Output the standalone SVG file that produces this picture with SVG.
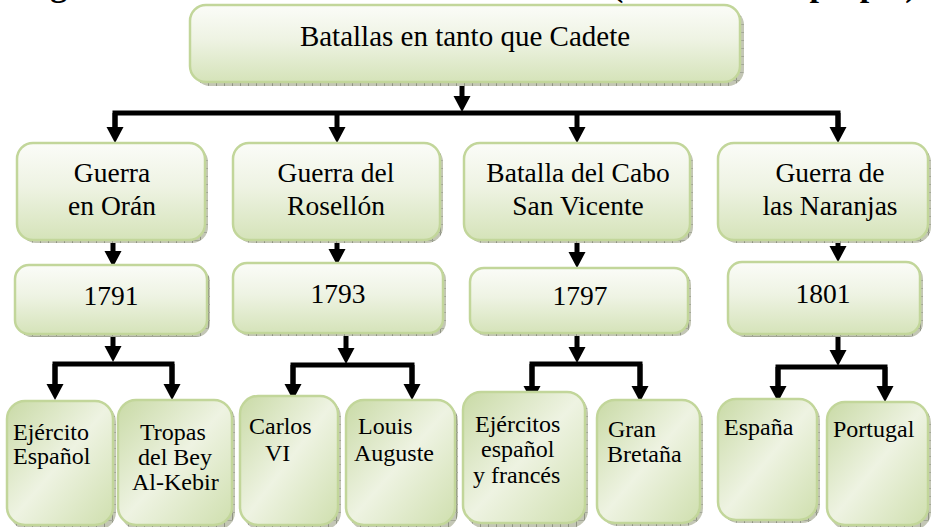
<svg xmlns="http://www.w3.org/2000/svg" width="935" height="527" viewBox="0 0 935 527">
<defs>
<linearGradient id="gBox" x1="0" y1="0" x2="0" y2="1">
<stop offset="0" stop-color="#fbfcf8"/>
<stop offset="0.45" stop-color="#eef3e3"/>
<stop offset="1" stop-color="#d5e3b9"/>
</linearGradient>
<linearGradient id="gLeaf" x1="0" y1="0" x2="1" y2="1">
<stop offset="0" stop-color="#c9daa6"/>
<stop offset="0.5" stop-color="#eef3e2"/>
<stop offset="1" stop-color="#cfdfae"/>
</linearGradient>
<pattern id="hatch" width="8" height="8" patternUnits="userSpaceOnUse">
<rect width="8" height="8" fill="#c3c6b5"/>
<rect width="1" height="8" fill="#8f9383"/>
<rect width="8" height="1" fill="#a3a797"/>
</pattern>
<marker id="ah" viewBox="0 -9 16 18" refX="1" refY="0" markerWidth="16" markerHeight="18" markerUnits="userSpaceOnUse" orient="auto">
<path d="M0,-8.5 L16,0 L0,8.5 z" fill="#000"/>
</marker>
</defs>
<style>
.sh{fill:url(#hatch);}
.bx{fill:url(#gBox);stroke:#c2d69a;stroke-width:2.5;}
.lf{fill:url(#gLeaf);stroke:#c2d69a;stroke-width:2.5;}
.t{font-family:"Liberation Serif","Times New Roman",serif;fill:#000;}
.t2{font-size:27.5px;text-anchor:middle;}
.t1{font-size:29px;text-anchor:middle;}
.tl{font-size:24px;}
.ti{font-family:"Liberation Serif","Times New Roman",serif;font-weight:bold;font-size:34px;fill:#000;}
.c{fill:none;stroke:#000;stroke-width:5;stroke-linejoin:miter;}
.ca{fill:none;stroke:#000;stroke-width:5;marker-end:url(#ah);}
</style>

<g id="title">
<text class="ti" x="20" y="-4">Figura</text>
<text class="ti" x="612" y="-4">(Elaboración propia)</text>
</g>

<g id="connectors">
<line class="ca" x1="462" y1="84" x2="462" y2="97"/>
<path class="c" d="M115,129 V113 H838 V129"/>
<line class="ca" x1="115" y1="113" x2="115" y2="128"/>
<line class="ca" x1="337" y1="113" x2="337" y2="128"/>
<line class="ca" x1="577" y1="113" x2="577" y2="128"/>
<line class="ca" x1="838" y1="113" x2="838" y2="128"/>

<line class="ca" x1="113" y1="241" x2="113" y2="252"/>
<line class="ca" x1="337" y1="241" x2="337" y2="250"/>
<line class="ca" x1="577" y1="241" x2="577" y2="253"/>
<line class="ca" x1="838" y1="241" x2="838" y2="247"/>

<line class="ca" x1="113" y1="335" x2="113" y2="347"/>
<path class="c" d="M55,386 V364 H172 V386"/>
<line class="ca" x1="55" y1="364" x2="55" y2="385"/>
<line class="ca" x1="172" y1="364" x2="172" y2="385"/>

<line class="ca" x1="346" y1="334" x2="346" y2="349"/>
<path class="c" d="M293,386 V365 H412 V386"/>
<line class="ca" x1="293" y1="365" x2="293" y2="385"/>
<line class="ca" x1="412" y1="365" x2="412" y2="385"/>

<line class="ca" x1="577" y1="334" x2="577" y2="348"/>
<path class="c" d="M532,388 V364 H640 V388"/>
<line class="ca" x1="532" y1="364" x2="532" y2="387"/>
<line class="ca" x1="640" y1="364" x2="640" y2="387"/>

<line class="ca" x1="838" y1="335" x2="838" y2="351"/>
<path class="c" d="M778,388 V367 H885 V388"/>
<line class="ca" x1="778" y1="367" x2="778" y2="387"/>
<line class="ca" x1="885" y1="367" x2="885" y2="387"/>
</g>

<g id="n-root">
<rect class="sh" x="194" y="9" width="550" height="77" rx="16"/>
<rect class="bx" x="190" y="5" width="550" height="77" rx="16"/>
<text class="t t1" x="465" y="46">Batallas en tanto que Cadete</text>
</g>

<g id="n-oran">
<rect class="sh" x="20" y="146" width="188" height="97" rx="16"/>
<rect class="bx" x="17" y="143" width="188" height="97" rx="16"/>
<text class="t t2" x="112" y="182">Guerra</text>
<text class="t t2" x="112" y="215">en Orán</text>
</g>
<g id="n-rosellon">
<rect class="sh" x="236" y="146" width="207" height="97" rx="16"/>
<rect class="bx" x="233" y="143" width="207" height="97" rx="16"/>
<text class="t t2" x="336" y="182">Guerra del</text>
<text class="t t2" x="336" y="215">Rosellón</text>
</g>
<g id="n-cabo">
<rect class="sh" x="467" y="146" width="226" height="97" rx="16"/>
<rect class="bx" x="464" y="143" width="226" height="97" rx="16"/>
<text class="t t2" x="578" y="182">Batalla del Cabo</text>
<text class="t t2" x="578" y="215">San Vicente</text>
</g>
<g id="n-naranjas">
<rect class="sh" x="721" y="146" width="210" height="97" rx="16"/>
<rect class="bx" x="718" y="143" width="210" height="97" rx="16"/>
<text class="t t2" x="830" y="182">Guerra de</text>
<text class="t t2" x="830" y="215">las Naranjas</text>
</g>

<g id="n-1791">
<rect class="sh" x="18" y="268" width="192" height="69" rx="14"/>
<rect class="bx" x="15" y="265" width="192" height="69" rx="14"/>
<text class="t t2" x="111" y="305">1791</text>
</g>
<g id="n-1793">
<rect class="sh" x="236" y="266" width="210" height="70" rx="14"/>
<rect class="bx" x="233" y="263" width="210" height="70" rx="14"/>
<text class="t t2" x="338" y="303">1793</text>
</g>
<g id="n-1797">
<rect class="sh" x="473" y="271" width="218" height="65" rx="14"/>
<rect class="bx" x="470" y="268" width="218" height="65" rx="14"/>
<text class="t t2" x="580" y="305">1797</text>
</g>
<g id="n-1801">
<rect class="sh" x="731" y="265" width="192" height="72" rx="14"/>
<rect class="bx" x="728" y="262" width="192" height="72" rx="14"/>
<text class="t t2" x="823" y="303">1801</text>
</g>

<g id="n-ejercito">
<rect class="sh" x="10" y="404" width="106" height="126" rx="18"/>
<rect class="lf" x="7" y="401" width="106" height="124" rx="18"/>
<text class="t tl" x="13" y="440">Ejército</text>
<text class="t tl" x="13" y="464">Español</text>
</g>
<g id="n-tropas">
<rect class="sh" x="121" y="403" width="114" height="127" rx="18"/>
<rect class="lf" x="118" y="400" width="114" height="125" rx="18"/>
<text class="t tl" x="140" y="440">Tropas</text>
<text class="t tl" x="138" y="465">del Bey</text>
<text class="t tl" x="132" y="490">Al-Kebir</text>
</g>
<g id="n-carlos">
<rect class="sh" x="243" y="399" width="98" height="131" rx="18"/>
<rect class="lf" x="240" y="396" width="98" height="129" rx="18"/>
<text class="t tl" x="249" y="434">Carlos</text>
<text class="t tl" x="265" y="461">VI</text>
</g>
<g id="n-louis">
<rect class="sh" x="349" y="403" width="109" height="127" rx="18"/>
<rect class="lf" x="346" y="400" width="109" height="125" rx="18"/>
<text class="t tl" x="358" y="434">Louis</text>
<text class="t tl" x="354" y="461">Auguste</text>
</g>
<g id="n-ejercitos">
<rect class="sh" x="466" y="395" width="122" height="133" rx="18"/>
<rect class="lf" x="463" y="392" width="122" height="131" rx="18"/>
<text class="t tl" x="475" y="432">Ejércitos</text>
<text class="t tl" x="481" y="457">español</text>
<text class="t tl" x="473" y="483">y francés</text>
</g>
<g id="n-gran">
<rect class="sh" x="600" y="403" width="103" height="123" rx="18"/>
<rect class="lf" x="597" y="400" width="103" height="123" rx="18"/>
<text class="t tl" x="608" y="437">Gran</text>
<text class="t tl" x="607" y="462">Bretaña</text>
</g>
<g id="n-espana">
<rect class="sh" x="721" y="402" width="99" height="121" rx="18"/>
<rect class="lf" x="718" y="399" width="99" height="121" rx="18"/>
<text class="t tl" x="724" y="435">España</text>
</g>
<g id="n-portugal">
<rect class="sh" x="830" y="405" width="101" height="125" rx="18"/>
<rect class="lf" x="827" y="402" width="101" height="123" rx="18"/>
<text class="t tl" x="833" y="437">Portugal</text>
</g>
</svg>
